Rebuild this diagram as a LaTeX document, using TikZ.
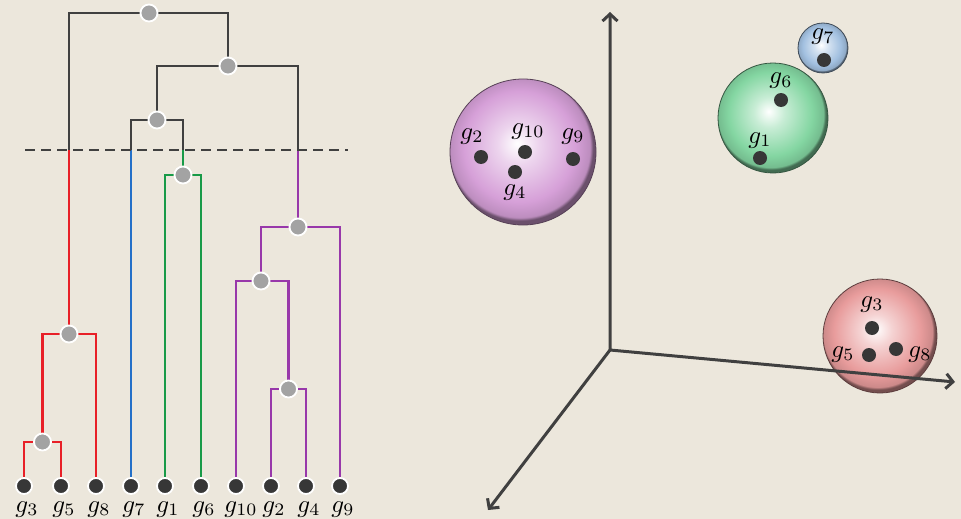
\documentclass[tikz,border=0pt]{standalone}
\usetikzlibrary{arrows.meta}

\definecolor{paper}{RGB}{236,231,220}
\definecolor{linkgray}{RGB}{64,64,64}
\definecolor{dotgray}{RGB}{55,55,55}
\definecolor{mergegray}{RGB}{163,163,163}
\definecolor{cred}{RGB}{232,32,40}
\definecolor{cblue}{RGB}{36,112,200}
\definecolor{cgreen}{RGB}{24,154,72}
\definecolor{cpurple}{RGB}{152,56,170}
\definecolor{spP}{RGB}{214,160,216}
\definecolor{spG}{RGB}{132,214,162}
\definecolor{spB}{RGB}{162,192,224}
\definecolor{spR}{RGB}{232,156,156}

\pgfdeclareradialshading{sphP}{\pgfpoint{-2bp}{3bp}}{color(0bp)=(white); color(7bp)=(white!55!spP); color(19bp)=(spP); color(24bp)=(spP!88!black); color(25bp)=(spP!50!black); color(50bp)=(spP!50!black)}
\pgfdeclareradialshading{sphG}{\pgfpoint{-2bp}{3bp}}{color(0bp)=(white); color(7bp)=(white!55!spG); color(19bp)=(spG); color(24bp)=(spG!88!black); color(25bp)=(spG!50!black); color(50bp)=(spG!50!black)}
\pgfdeclareradialshading{sphB}{\pgfpoint{-2bp}{3bp}}{color(0bp)=(white); color(7bp)=(white!55!spB); color(19bp)=(spB); color(24bp)=(spB!88!black); color(25bp)=(spB!50!black); color(50bp)=(spB!50!black)}
\pgfdeclareradialshading{sphR}{\pgfpoint{-2bp}{3bp}}{color(0bp)=(white); color(7bp)=(white!55!spR); color(19bp)=(spR); color(24bp)=(spR!88!black); color(25bp)=(spR!50!black); color(50bp)=(spR!50!black)}

\pgfdeclarelayer{bg}
\pgfdeclarelayer{edges}
\pgfsetlayers{bg,edges,main}

\tikzset{
  leaf/.style={circle, fill=dotgray, draw=white, line width=1.8pt, minimum size=16pt, inner sep=0pt},
  merge/.style={circle, fill=mergegray, draw=white, line width=1.8pt, minimum size=17pt, inner sep=0pt},
  link/.style={line width=2.8pt},
  cutline/.style={line width=2.8pt, draw=linkgray, dash pattern=on 10pt off 6pt},
  lab/.style={anchor=base, inner sep=0pt, scale=2.5},
  dot/.style={circle, fill=dotgray, minimum size=14pt, inner sep=0pt},
  sphere/.style={circle, inner sep=0pt, minimum size=#1},
  barb/.tip={Straight Barb[length=7pt,width=15pt,line width=3pt]},
  axis/.style={line width=3pt, draw=linkgray, line join=miter},
}

\begin{document}
\begin{tikzpicture}[x=1pt,y=-1pt]
\begin{pgfonlayer}{bg}
  \fill[paper] (0,0) rectangle (961,519);
\end{pgfonlayer}
\useasboundingbox (0,0) rectangle (961,519);

% ---------------- dendrogram: leaves ----------------
\node[leaf] (l3)  at (24,486) {};
\node[leaf] (l5)  at (61,486) {};
\node[leaf] (l8)  at (96,486) {};
\node[leaf] (l7)  at (131,486) {};
\node[leaf] (l1)  at (165,486) {};
\node[leaf] (l6)  at (201,486) {};
\node[leaf] (l10) at (236,486) {};
\node[leaf] (l2)  at (271,486) {};
\node[leaf] (l4)  at (306,486) {};
\node[leaf] (l9)  at (340,486) {};

\node[lab] (t3)  at (27,512)  {$g_{3}$};
\node[lab] (t5)  at (64,512)  {$g_{5}$};
\node[lab] (t8)  at (99,512)  {$g_{8}$};
\node[lab] (t7)  at (134,512) {$g_{7}$};
\node[lab] (t1)  at (168,512) {$g_{1}$};
\node[lab] (t6)  at (204,512) {$g_{6}$};
\node[lab] (t10) at (241,512) {$g_{10}$};
\node[lab] (t2)  at (274,512) {$g_{2}$};
\node[lab] (t4)  at (309,512) {$g_{4}$};
\node[lab] (t9)  at (343,512) {$g_{9}$};

% ---------------- dendrogram: merges ----------------
\node[merge] (n35)  at (42.5,442) {};
\node[merge] (nR)   at (69,334) {};
\node[merge] (nS)   at (288.5,389) {};
\node[merge] (nQ)   at (261,281) {};
\node[merge] (nP)   at (298,227) {};
\node[merge] (nG)   at (183,175) {};
\node[merge] (nB)   at (157,120) {};
\node[merge] (nA)   at (228,66) {};
\node[merge] (nTop) at (149,13) {};

% where the branches cross the cut level
\coordinate (cR)  at (69,150);
\coordinate (cBl) at (131,150);
\coordinate (cG)  at (183,150);
\coordinate (cP)  at (298,150);
\coordinate (cutL) at (25,150);
\coordinate (cutR) at (348,150);

\begin{pgfonlayer}{edges}
  % red cluster
  \draw[link, cred] (l3.center) |- (n35.center) -| (l5.center);
  \draw[link, cred] (n35.center) |- (nR.center) -| (l8.center);
  \draw[link, cred] (nR.center) -- (cR);
  % blue cluster
  \draw[link, cblue] (cBl) -- (l7.center);
  % green cluster
  \draw[link, cgreen] (cG) -- (nG.center);
  \draw[link, cgreen] (l1.center) |- (nG.center) -| (l6.center);
  % purple cluster
  \draw[link, cpurple] (cP) -- (nP.center);
  \draw[link, cpurple] (nQ.center) |- (nP.center) -| (l9.center);
  \draw[link, cpurple] (l10.center) |- (nQ.center) -| (nS.center);
  \draw[link, cpurple] (l2.center) |- (nS.center) -| (l4.center);
  % upper part of the tree
  \draw[link, linkgray] (cR) |- (nTop.center) -| (nA.center);
  \draw[link, linkgray] (nB.center) |- (nA.center) -| (cP);
  \draw[link, linkgray] (cBl) |- (nB.center) -| (cG);
  % cut level
  \draw[cutline] (cutL) -- (cutR);
\end{pgfonlayer}

% ---------------- clusters in feature space ----------------
\node[sphere=146pt, shading=sphP, draw=spP!40!black, line width=0.8pt] (sP) at (523,152) {};
\node[sphere=110pt, shading=sphG, draw=spG!40!black, line width=0.8pt] (sG) at (773,118) {};
\node[sphere=50pt,  shading=sphB, draw=spB!40!black, line width=0.8pt] (sB) at (823,48) {};
\node[sphere=114pt, shading=sphR, draw=spR!40!black, line width=0.8pt] (sR) at (880,336) {};

\node[dot] (p2)  at (481,157) {};
\node[dot] (p10) at (525,152) {};
\node[dot] (p9)  at (573,159) {};
\node[dot] (p4)  at (515,172) {};
\node[lab] (q2)  at (472,139) {$g_{2}$};
\node[lab] (q10) at (528,134) {$g_{10}$};
\node[lab] (q9)  at (573,139) {$g_{9}$};
\node[lab] (q4)  at (515,195) {$g_{4}$};

\node[dot] (p6) at (781,100) {};
\node[dot] (p1) at (760,158) {};
\node[lab] (q6) at (781,84)  {$g_{6}$};
\node[lab] (q1) at (760,143) {$g_{1}$};

\node[dot] (p7) at (824,60) {};
\node[lab] (q7) at (823,40) {$g_{7}$};

\node[dot] (p3) at (872,328) {};
\node[dot] (p5) at (869,355) {};
\node[dot] (p8) at (896,349) {};
\node[lab] (q3) at (872,307) {$g_{3}$};
\node[lab] (q5) at (843,357) {$g_{5}$};
\node[lab] (q8) at (920,357) {$g_{8}$};

% ---------------- axes ----------------
\coordinate (O)  at (610,350);
\coordinate (Ay) at (610,12);
\coordinate (Ax) at (955,382);
\coordinate (Az) at (488,510);
\draw[axis, barb-barb] (Ay) -- (O) -- (Ax);
\draw[axis, -barb] (O) -- (Az);

\end{tikzpicture}
\end{document}
